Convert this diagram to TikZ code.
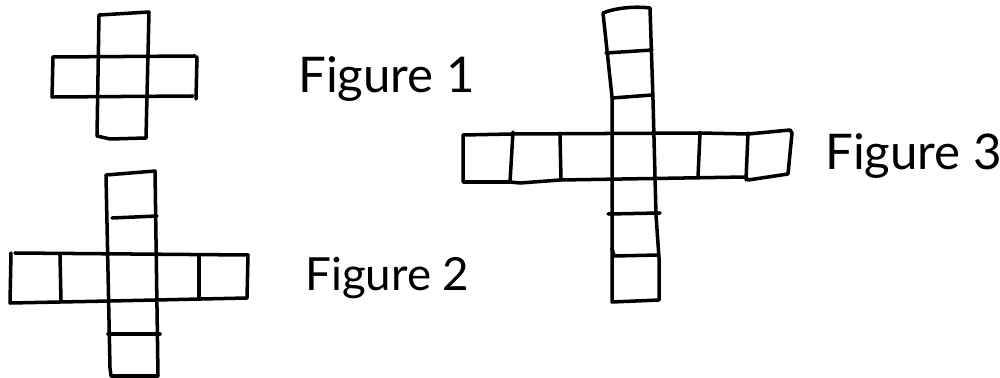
\documentclass[tikz,border=0pt]{standalone}
\usepackage{fontspec}
\setmainfont{Lato}
\begin{document}
\begin{tikzpicture}[x=0.02cm,y=-0.02cm,
  pen/.style={line width=2pt,line cap=round,line join=round,black},
  lbl/.style={anchor=base west,inner sep=0pt,font=\fontsize{28}{32}\selectfont}]
\useasboundingbox (0,0) rectangle (1000,378);
% ---- Figure 1 ----
\draw[pen] (99,15) -- (149,12) -- (146,138) -- (110,139) -- (97,136) -- cycle;
\draw[pen] (53,57) -- (195,56);
\draw[pen] (53,57) -- (52,97) -- (193,96);
\draw[pen] (197,57) -- (196,99);
\node[lbl] (f1) at (298,93) {Figure 1};
% ---- Figure 2 ----
\draw[pen] (106,175) -- (155,171) -- (158,376) -- (111,376) -- (110,368) -- cycle;
\draw[pen] (112,218) -- (157,216);
\draw[pen] (108,334) -- (160,334);
\draw[pen] (15,253) -- (248,255) -- (247,298) -- (110,301) -- (10,303) -- (11,253);
\draw[pen] (60,255) -- (61,301);
\draw[pen] (199,255) -- (199,298);
\node[lbl,font=\fontsize{26}{30}\selectfont] (f2) at (305,290) {Figure 2};
% ---- Figure 3 ----
\draw[pen] (603,13) .. controls (615,8) and (635,6) .. (650,8) -- (653,100) -- (656,215) -- (659,258) -- (659,300) -- (612,302) -- (612,200) -- (612,97) -- cycle;
\draw[pen] (606,53) -- (652,50);
\draw[pen] (612,98) -- (652,95);
\draw[pen] (608,214) -- (660,213);
\draw[pen] (612,248) -- (614,256) -- (658,255);
\draw[pen] (463,135) -- (512,134) -- (700,133) -- (748,134) -- (790,130) -- (792,133) -- (788,174) -- (748,180) -- (746,177) -- (560,180) -- (520,183) -- (510,182) -- (463,182) -- cycle;
\draw[pen] (513,132) -- (510,182);
\draw[pen] (560,135) -- (561,180);
\draw[pen] (700,133) -- (698,177);
\draw[pen] (748,133) -- (746,180);
\node[lbl] (f3) at (825,170) {Figure 3};
\end{tikzpicture}
\end{document}
